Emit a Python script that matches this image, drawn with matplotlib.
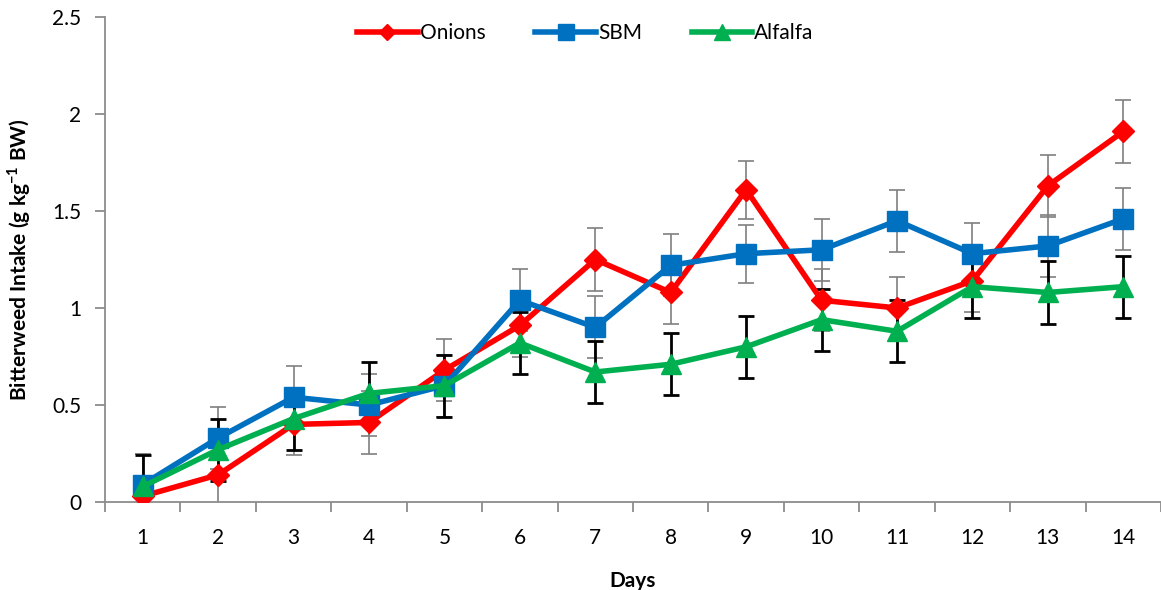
import numpy as np
from matplotlib import pyplot as plt

days = list(range(1, 15))

onions = [0.03, 0.14, 0.40, 0.41, 0.68, 0.91, 1.25, 1.08, 1.61, 1.04, 1.00, 1.14, 1.63, 1.91]
sbm = [0.09, 0.33, 0.54, 0.50, 0.60, 1.04, 0.90, 1.22, 1.28, 1.30, 1.45, 1.28, 1.32, 1.46]
alfalfa = [0.08, 0.27, 0.43, 0.56, 0.60, 0.82, 0.67, 0.71, 0.80, 0.94, 0.88, 1.11, 1.08, 1.11]

# standard errors
onions_se = [0.22, 0.16, 0.16, 0.16, 0.16, 0.16, 0.16, 0.16, 0.15, 0.16, 0.16, 0.16, 0.16, 0.16]
sbm_se = [0.16, 0.16, 0.16, 0.16, 0.16, 0.16, 0.16, 0.16, 0.15, 0.16, 0.16, 0.16, 0.16, 0.16]
alfalfa_se = [0.16, 0.16, 0.16, 0.16, 0.16, 0.16, 0.16, 0.16, 0.16, 0.16, 0.16, 0.16, 0.16, 0.16]

plt.rcParams['font.family'] = ['Lato', 'DejaVu Sans']

fig = plt.figure(figsize=(11.61, 5.9), dpi=100)
ax = fig.add_axes([105 / 1161, 88 / 590, 1056 / 1161, 485 / 590])

series = [
    ('Onions', onions, onions_se, '#FF0000', 'D', 11, '#7F7F7F', 1.2),
    ('SBM', sbm, sbm_se, '#0070C0', 's', 15, '#7F7F7F', 1.2),
    ('Alfalfa', alfalfa, alfalfa_se, '#00B050', '^', 15, 'black', 2.0),
]

for name, vals, se, color, marker, ms, ecolor, elw in series:
    ax.errorbar(days, vals, yerr=se, fmt='none', ecolor=ecolor,
                elinewidth=elw, capsize=5.5, capthick=elw, zorder=2)
    ax.plot(days, vals, color=color, marker=marker, markersize=ms,
            linewidth=4, label=name, zorder=3)

ax.set_xlim(0.5, 14.5)
ax.set_ylim(0, 2.5)
ax.set_yticks(np.arange(0, 2.51, 0.5))
ax.set_yticklabels(['0', '0.5', '1', '1.5', '2', '2.5'])
ax.set_xticks(days)
ax.set_xticklabels([str(d) for d in days])
ax.set_xticks(np.arange(0.5, 14.6, 1), minor=True)

for side in ['top', 'right']:
    ax.spines[side].set_visible(False)
for side in ['left', 'bottom']:
    ax.spines[side].set_color('#8C8C8C')
    ax.spines[side].set_linewidth(1.3)

ax.tick_params(axis='x', which='major', length=0, labelsize=15, pad=19)
ax.tick_params(axis='x', which='minor', length=7, color='#8C8C8C', width=1.3)
ax.tick_params(axis='y', length=7, color='#8C8C8C', width=1.3, labelsize=15, pad=10)

ax.set_xlabel('Days', fontsize=15, fontweight='bold', labelpad=16)
ax.set_ylabel('Bitterweed Intake (g kg$^{\\mathregular{-1}}$ BW)', fontsize=15,
              fontweight='bold', labelpad=14)

ax.legend(loc='center', bbox_to_anchor=(0.455, 0.967), ncol=3, frameon=False,
          fontsize=15, handlelength=2.9, handletextpad=0.1, columnspacing=2.4,
          markerscale=0.75)

fig.savefig('out.png', dpi=100)
